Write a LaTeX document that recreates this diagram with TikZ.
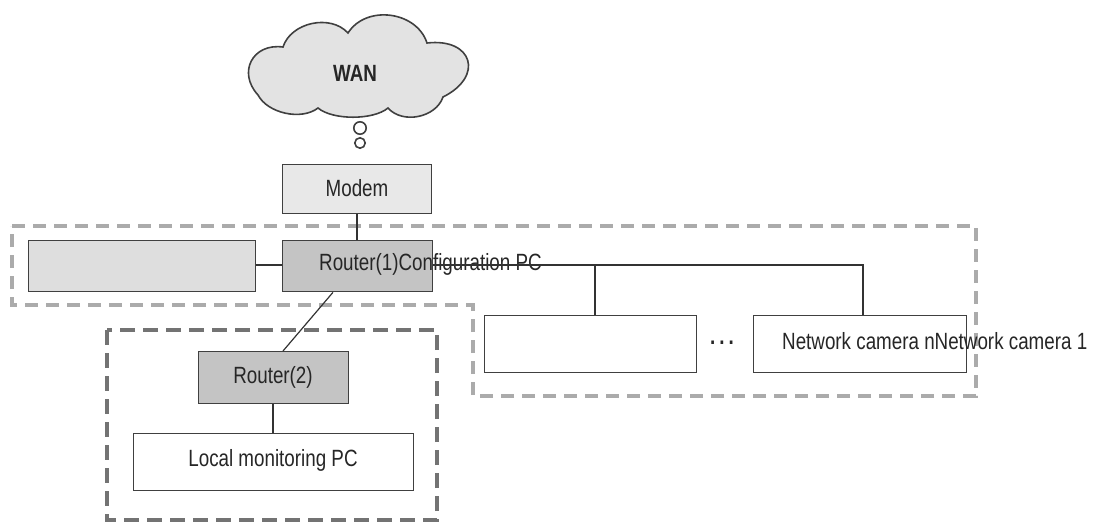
\documentclass[tikz,border=0pt]{standalone}
\usepackage{fontspec}
\setmainfont[FakeStretch=0.8]{Liberation Sans}
\begin{document}
\begin{tikzpicture}[x=1pt,y=-1pt,
  box/.style={draw=black!75, line width=1.3pt, inner sep=0pt, anchor=north west},
  conn/.style={draw=black!80, line width=1.2pt},
  lbl/.style={font=\fontsize{23.5}{28}\selectfont, text=black!85, inner sep=0pt},
  outerzone/.style={draw=black!33, line width=3.2pt, dash pattern=on 13pt off 8pt},
  innerzone/.style={draw=black!55, line width=3.2pt, dash pattern=on 15pt off 8pt},
  cloudline/.style={draw=black!75, line width=1.6pt, fill=black!11}]
\useasboundingbox (0,0) rectangle (1096,528);

% zones
\draw[outerzone] (12,226) -- (976,226) -- (976,396) -- (473,396) -- (473,305) -- (12,305) -- cycle;
\draw[innerzone] (107,330) rectangle (437,520);

% cloud
\draw[cloudline] (258,95)
  to[bend left=70, looseness=1.45] (283,47)
  to[bend left=60, looseness=1.0] (348,33)
  to[bend left=65, looseness=1.08] (427,43)
  to[bend left=80, looseness=2.1] (443,97)
  to[bend left=60, looseness=1.0] (388,108)
  to[bend left=40, looseness=0.7] (318,108)
  to[bend left=50, looseness=0.87] (258,95) -- cycle;
\node[lbl, font=\fontsize{23.5}{28}\selectfont\bfseries] (wan) at (355,73) {WAN};
\draw[cloudline, fill=white] (360,128) circle[radius=6.2pt];
\draw[cloudline, fill=white] (360,143) circle[radius=5.2pt];

% boxes
\node[box, fill=black!9, minimum width=149pt, minimum height=49pt] (modem) at (282,164) {};
\node[lbl] (modemt) at (357,188) {Modem};
\node[box, fill=black!13, minimum width=227pt, minimum height=51pt] (cfg) at (28,240) {};
\node[box, fill=black!23, minimum width=150pt, minimum height=51pt] (r1) at (282,240) {};
\node[lbl, anchor=base west] (r1t) at (319,270) {Router(1)Configuration PC};
\node[box, fill=black!23, minimum width=150pt, minimum height=52pt] (r2) at (198,351) {};
\node[lbl] (r2t) at (273,377) {Router(2)};
\node[box, fill=white, minimum width=280pt, minimum height=57pt] (lpc) at (133,433) {};
\node[lbl] (lpct) at (273,460) {Local monitoring PC};
\node[box, fill=white, minimum width=212pt, minimum height=57pt] (cam1) at (484,315) {};
\node[box, fill=white, minimum width=213pt, minimum height=57pt] (camn) at (753,315) {};
\node[lbl, anchor=base west] (camt) at (782,349) {Network camera nNetwork camera 1};
\node[lbl, font=\fontsize{23.5}{28}\selectfont\bfseries] (dots) at (722,343) {.\hspace{4pt}.\hspace{4pt}.};

% connectors
\coordinate (bus1) at (595,265);
\coordinate (bus2) at (863,265);
\draw[conn] (modem.south -| 357,0) -- (r1.north -| 357,0);
\draw[conn] (cfg.east |- 0,265) -- (r1.west |- 0,265);
\draw[conn] (r1.east |- 0,265) -- (bus2) -- (camn.north -| bus2);
\draw[conn] (bus1) -- (cam1.north -| bus1);
\draw[conn] (r1.south -| 333,0) -- (r2.north -| 283,0);
\draw[conn] (r2.south -| 273,0) -- (lpc.north -| 273,0);
\end{tikzpicture}
\end{document}
